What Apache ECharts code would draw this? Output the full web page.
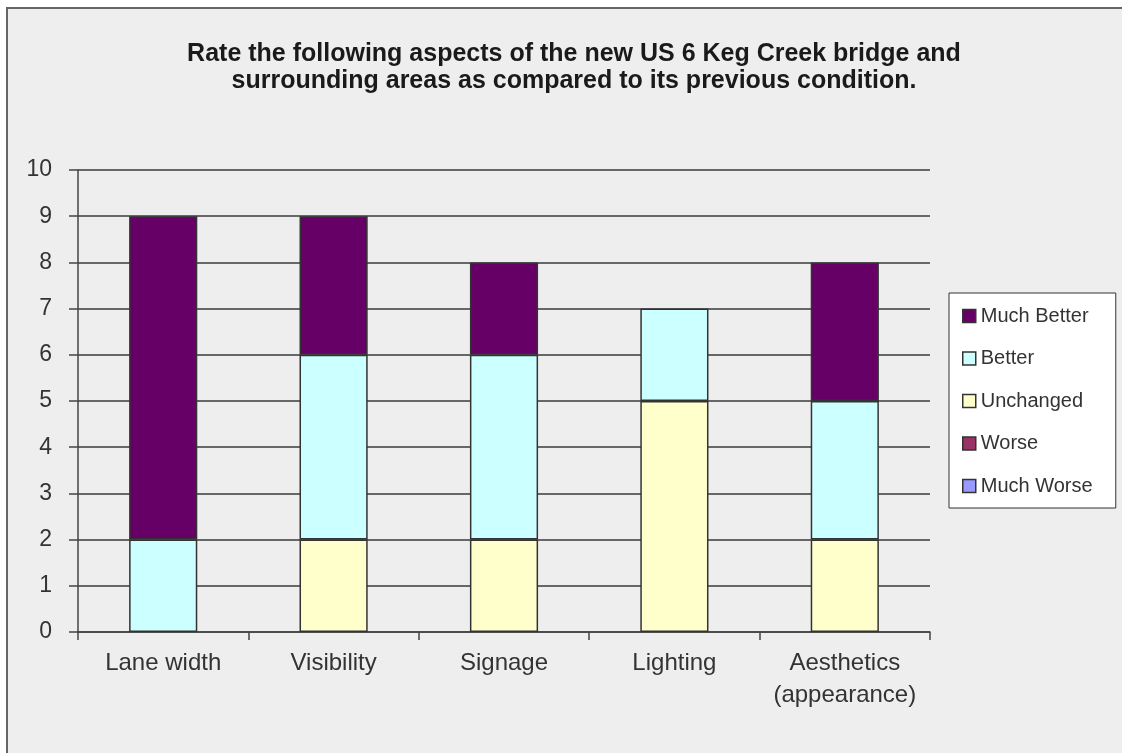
<!DOCTYPE html>
<html>
<head>
<meta charset="utf-8">
<script src="https://cdn.jsdelivr.net/npm/echarts@6/dist/echarts.min.js"></script>
<style>
html,body{margin:0;padding:0;background:#fff;}
#bg{position:absolute;left:6px;top:7px;right:0;bottom:0;background:#eeeeee;border-left:2px solid #666;border-top:2px solid #666;}
#main{position:absolute;left:0;top:0;width:1122px;height:753px;}
</style>
</head>
<body>
<div id="bg"></div>
<div id="main"></div>
<script>
const categories = ['Lane width', 'Visibility', 'Signage', 'Lighting', 'Aesthetics\n(appearance)'];
const muchWorse = [0, 0, 0, 0, 0];
const worse = [0, 0, 0, 0, 0];
const unchanged = [0, 2, 2, 5, 2];
const better = [2, 4, 4, 2, 3];
const muchBetter = [7, 3, 2, 0, 3];
const yTicks = [0, 10, 1];
const titleText = 'Rate the following aspects of the new US 6 Keg Creek bridge and\nsurrounding areas as compared to its previous condition.';

const font = '"Liberation Sans", Arial, sans-serif';
function mk(name, data, color) {
  return {
    name: name, type: 'bar', stack: 'total',
    data: data.map(function (v) { return v === 0 ? { value: 0, itemStyle: { borderWidth: 0 } } : v; }),
    barWidth: '40%',
    itemStyle: { color: color, borderColor: '#333', borderWidth: 1.5 },
    emphasis: { disabled: true }
  };
}
const chart = echarts.init(document.getElementById('main'), null, { renderer: 'canvas' });
chart.setOption({
  backgroundColor: 'transparent',
  animation: false,
  title: {
    text: titleText, left: 569, top: 36, textAlign: 'center',
    textStyle: { fontFamily: font, fontSize: 25, fontWeight: 'bold', color: '#1a1a1a', lineHeight: 27 }
  },
  grid: { left: 78, right: 192, top: 170, bottom: 121, containLabel: false },
  legend: {
    orient: 'vertical', left: 949, top: 293,
    data: ['Much Better', 'Better', 'Unchanged', 'Worse', 'Much Worse'],
    backgroundColor: '#fff', borderColor: '#333', borderWidth: 1,
    padding: [13, 5, 12, 13], itemGap: 22.5, itemWidth: 13, itemHeight: 13,
    icon: 'rect',
    itemStyle: { borderWidth: 1.5, borderColor: '#333' },
    textStyle: { fontFamily: font, fontSize: 20, color: '#333', lineHeight: 20, width: 130 }
  },
  xAxis: {
    type: 'category', data: categories,
    axisLine: { lineStyle: { color: '#444', width: 1.5 } },
    axisTick: { show: true, interval: 0, length: 8, lineStyle: { color: '#444', width: 1.5 } },
    axisLabel: { interval: 0, fontFamily: font, fontSize: 24, color: '#333', margin: 15, lineHeight: 32 }
  },
  yAxis: {
    type: 'value', min: yTicks[0], max: yTicks[1], interval: yTicks[2],
    axisLine: { show: true, lineStyle: { color: '#444', width: 1.5 } },
    axisTick: { show: true, length: 9, lineStyle: { color: '#444', width: 1.5 } },
    splitLine: { show: true, lineStyle: { color: '#3a3a3a', width: 1.5 } },
    axisLabel: { fontFamily: font, fontSize: 23, color: '#333', margin: 26 }
  },
  series: [
    mk('Much Worse', muchWorse, '#9999ff'),
    mk('Worse', worse, '#993366'),
    mk('Unchanged', unchanged, '#ffffcc'),
    mk('Better', better, '#ccffff'),
    mk('Much Better', muchBetter, '#660066')
  ]
});
</script>
</body>
</html>
